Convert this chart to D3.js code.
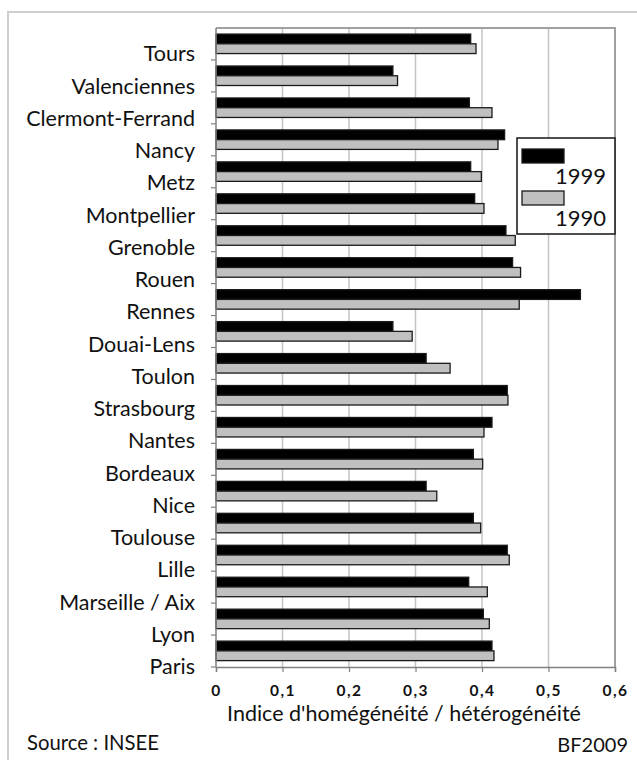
<!DOCTYPE html>
<html>
<head>
<meta charset="utf-8">
<script src="https://cdn.jsdelivr.net/npm/d3@7"></script>
<style>
  html, body { margin: 0; padding: 0; background: #fff; }
  svg { display: block; }
  text { font-family: Lato, "Open Sans", sans-serif; fill: #111; }
</style>
</head>
<body>
<svg id="chart" width="637" height="760"></svg>
<script>
// Urban areas, top to bottom
const cities = ["Tours", "Valenciennes", "Clermont-Ferrand", "Nancy", "Metz",
  "Montpellier", "Grenoble", "Rouen", "Rennes", "Douai-Lens", "Toulon",
  "Strasbourg", "Nantes", "Bordeaux", "Nice", "Toulouse", "Lille",
  "Marseille / Aix", "Lyon", "Paris"];

// Homogeneity / heterogeneity index by year
const values1999 = [0.383, 0.266, 0.381, 0.434, 0.383, 0.389, 0.436, 0.446, 0.548,
  0.266, 0.316, 0.438, 0.415, 0.387, 0.316, 0.387, 0.438, 0.380, 0.402, 0.415];
const values1990 = [0.391, 0.273, 0.415, 0.424, 0.399, 0.403, 0.450, 0.458, 0.456,
  0.295, 0.352, 0.439, 0.403, 0.401, 0.332, 0.398, 0.441, 0.408, 0.411, 0.418];

const seriesNames = ["1999", "1990"];
const xTicks = [0, 0.1, 0.2, 0.3, 0.4, 0.5, 0.6];
const xTickLabels = ["0", "0,1", "0,2", "0,3", "0,4", "0,5", "0,6"];

const seriesFill = { "1999": "#000000", "1990": "#c0c0c0" };

const svg = d3.select("#chart");

// outer frame of the figure
svg.append("rect")
  .attr("x", 8).attr("y", 12)
  .attr("width", 660).attr("height", 780)
  .attr("fill", "none").attr("stroke", "#cfcfcf").attr("stroke-width", 2);

const plot = { left: 216, right: 615, top: 28, bottom: 667 };

const x = d3.scaleLinear().domain([0, 0.6]).range([plot.left, plot.right]);
const y = d3.scaleBand().domain(cities).range([plot.top, plot.bottom]).padding(0);
const ySeries = d3.scaleBand().domain(seriesNames)
  .range([y.bandwidth() * 0.19, y.bandwidth() * 0.8]).padding(0);

// vertical gridlines
svg.append("g")
  .selectAll("line")
  .data(xTicks.slice(1))
  .join("line")
  .attr("x1", d => x(d)).attr("x2", d => x(d))
  .attr("y1", plot.top).attr("y2", plot.bottom)
  .attr("stroke", "#c4c4c4").attr("stroke-width", 1.5);

// plot frame (top and right)
svg.append("path")
  .attr("d", `M${plot.left},${plot.top}H${plot.right}V${plot.bottom}`)
  .attr("fill", "none").attr("stroke", "#a0a0a0").attr("stroke-width", 2);

// bars
const rows = cities.map((c, i) => ({ city: c, "1999": values1999[i], "1990": values1990[i] }));

const groups = svg.append("g")
  .selectAll("g")
  .data(rows)
  .join("g")
  .attr("transform", d => `translate(0,${y(d.city)})`);

groups.selectAll("rect")
  .data(d => seriesNames.map(s => ({ s, v: d[s] })))
  .join("rect")
  .attr("x", x(0))
  .attr("y", d => ySeries(d.s))
  .attr("width", d => x(d.v) - x(0))
  .attr("height", ySeries.bandwidth())
  .attr("fill", d => seriesFill[d.s])
  .attr("stroke", "#1a1a1a")
  .attr("stroke-width", 1.3);

// left axis with ticks at category boundaries
const yAxisG = svg.append("g");
yAxisG.append("line")
  .attr("x1", plot.left).attr("x2", plot.left)
  .attr("y1", plot.top).attr("y2", plot.bottom)
  .attr("stroke", "#808080").attr("stroke-width", 1.5);
yAxisG.selectAll("line.tick")
  .data(cities)
  .join("line")
  .attr("class", "tick")
  .attr("x1", plot.left - 5).attr("x2", plot.left)
  .attr("y1", d => y(d) + y.bandwidth()).attr("y2", d => y(d) + y.bandwidth())
  .attr("stroke", "#808080").attr("stroke-width", 1.2);

// category labels
yAxisG.selectAll("text")
  .data(cities)
  .join("text")
  .attr("x", 195)
  .attr("y", (d, i) => y(d) + y.bandwidth() + 1.5 + i * 0.3)
  .attr("text-anchor", "end")
  .attr("font-size", 21.5)
  .text(d => d);

// bottom axis
const xAxis = d3.axisBottom(x)
  .tickValues(xTicks)
  .tickSize(5)
  .tickFormat((d, i) => xTickLabels[i]);

const xAxisG = svg.append("g")
  .attr("transform", `translate(0,${plot.bottom})`)
  .call(xAxis);
xAxisG.select(".domain").attr("stroke", "#808080").attr("stroke-width", 1.5);
xAxisG.selectAll(".tick line").attr("stroke", "#808080").attr("stroke-width", 1.2);
xAxisG.selectAll(".tick text")
  .attr("y", 18)
  .attr("dy", "0.7em")
  .attr("font-family", "'Liberation Serif', serif")
  .attr("font-weight", "bold")
  .attr("font-size", 15.5)
  .attr("letter-spacing", 1.5)
  .attr("fill", "#111");

// axis title
svg.append("text")
  .attr("x", 404).attr("y", 721)
  .attr("text-anchor", "middle")
  .attr("font-size", 21.5)
  .text("Indice d'homégénéité / hétérogénéité");

svg.append("text")
  .attr("x", 27).attr("y", 750)
  .attr("font-size", 20.3)
  .text("Source : INSEE");

svg.append("text")
  .attr("x", 628).attr("y", 752)
  .attr("text-anchor", "end")
  .attr("font-size", 20)
  .text("BF2009");

// legend
const legend = svg.append("g");
legend.append("rect")
  .attr("x", 517).attr("y", 138).attr("width", 98).attr("height", 96)
  .attr("fill", "#fff").attr("stroke", "#222").attr("stroke-width", 1.6);

const legendItems = legend.selectAll("g.item")
  .data(seriesNames)
  .join("g")
  .attr("class", "item")
  .attr("transform", (d, i) => `translate(0,${i * 42})`);

legendItems.append("rect")
  .attr("x", 522).attr("y", 149).attr("width", 42).attr("height", 14)
  .attr("fill", d => seriesFill[d])
  .attr("stroke", "#1a1a1a").attr("stroke-width", 1.3);

legendItems.append("text")
  .attr("x", 606).attr("y", 184)
  .attr("text-anchor", "end")
  .attr("font-size", 22)
  .text(d => d);
</script>
</body>
</html>
